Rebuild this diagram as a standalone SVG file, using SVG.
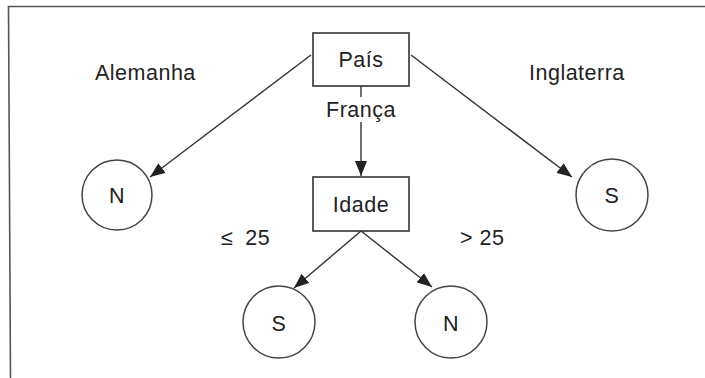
<svg xmlns="http://www.w3.org/2000/svg" width="705" height="378" viewBox="0 0 705 378">
  <style>
    .frame { fill: none; stroke: #555; stroke-width: 1.6; }
    .box { fill: #fff; stroke: #333; stroke-width: 1.6; }
    .leaf { fill: #fff; stroke: #444; stroke-width: 1.5; }
    .edge { fill: none; stroke: #333; stroke-width: 1.4; }
    .lbl { font-family: "Liberation Sans", Arial, sans-serif; font-size: 21.5px; fill: #222; letter-spacing: 0.5px; }
    .mid { text-anchor: middle; }
  </style>
  <defs>
    <marker id="arrow" markerUnits="userSpaceOnUse" markerWidth="16" markerHeight="12" refX="15" refY="6" orient="auto">
      <path d="M0,0 L15,6 L0,12 Z" fill="#222"/>
    </marker>
  </defs>

  <!-- outer frame (top and left borders) -->
  <path class="frame" d="M705,6.5 L8.5,6.5 L10.5,378"/>

  <!-- connectors -->
  <g id="connectors">
    <line class="edge" x1="311" y1="55" x2="150" y2="177" marker-end="url(#arrow)"/>
    <line class="edge" x1="411" y1="55" x2="572" y2="177" marker-end="url(#arrow)"/>
    <line class="edge" x1="361" y1="86" x2="361" y2="97"/>
    <line class="edge" x1="361" y1="122" x2="361" y2="176" marker-end="url(#arrow)"/>
    <line class="edge" x1="361" y1="231" x2="294" y2="288" marker-end="url(#arrow)"/>
    <line class="edge" x1="361" y1="231" x2="432" y2="287" marker-end="url(#arrow)"/>
  </g>

  <!-- branch labels -->
  <g id="edge-labels">
    <text class="lbl" x="95" y="80">Alemanha</text>
    <text class="lbl" x="529" y="80">Inglaterra</text>
    <text class="lbl mid" x="361" y="117">França</text>
    <text class="lbl" x="221" y="245">≤<tspan dx="12">25</tspan></text>
    <text class="lbl" x="460" y="245">&gt; 25</text>
  </g>

  <g id="node-pais">
    <rect class="box" x="313" y="33" width="96" height="53"/>
    <text class="lbl mid" x="361" y="67">País</text>
  </g>

  <g id="node-idade">
    <rect class="box" x="313" y="177" width="96" height="54"/>
    <text class="lbl mid" x="361" y="212">Idade</text>
  </g>

  <g id="leaf-alemanha">
    <circle class="leaf" cx="117" cy="195" r="35"/>
    <text class="lbl mid" x="117" y="203">N</text>
  </g>

  <g id="leaf-inglaterra">
    <circle class="leaf" cx="612" cy="195" r="36"/>
    <text class="lbl mid" x="612" y="203">S</text>
  </g>

  <g id="leaf-jovem">
    <circle class="leaf" cx="279" cy="322" r="36"/>
    <text class="lbl mid" x="279" y="331">S</text>
  </g>

  <g id="leaf-adulto">
    <circle class="leaf" cx="451" cy="322" r="36"/>
    <text class="lbl mid" x="451" y="331">N</text>
  </g>
</svg>
